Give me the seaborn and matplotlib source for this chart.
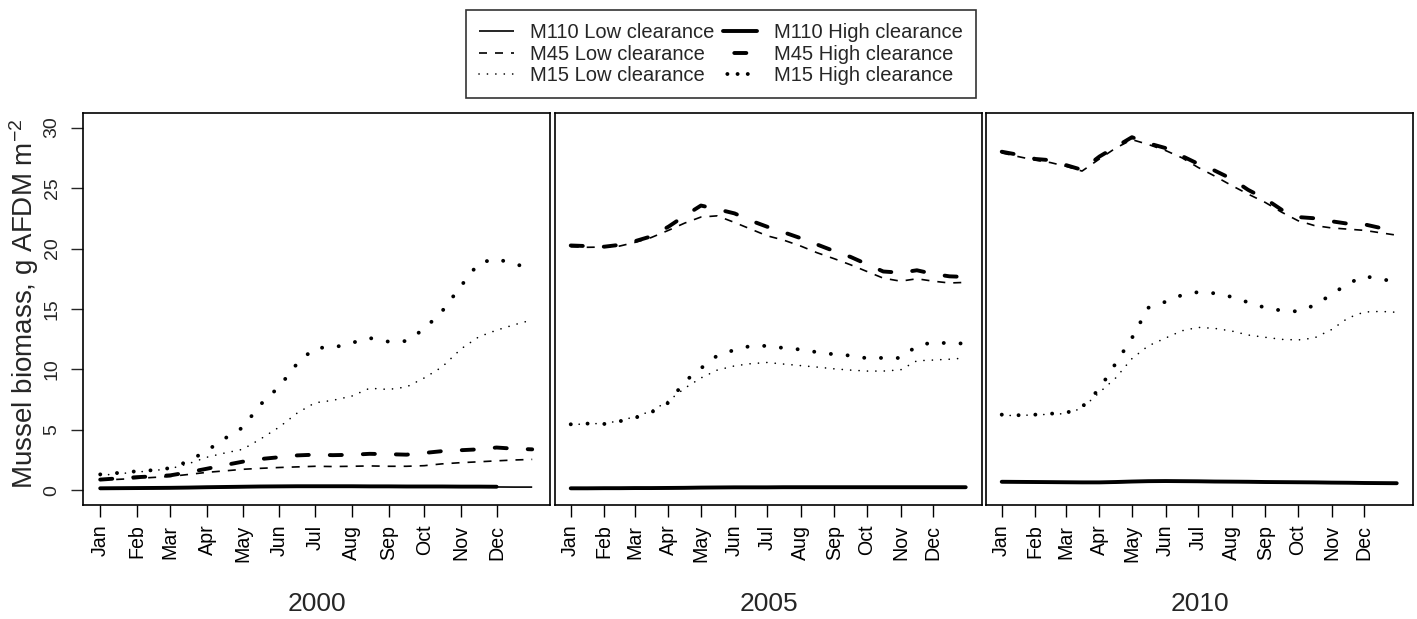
import numpy as np
import pandas as pd
import matplotlib
matplotlib.use("Agg")
import matplotlib.pyplot as plt
from matplotlib.lines import Line2D
import seaborn as sns

nan = np.nan

# sampling days (day of year) shared by every series
days = [1, 16, 32, 46, 60, 75, 91, 106, 121, 136, 152, 167, 182,
        197, 213, 228, 244, 259, 274, 289, 305, 320, 335, 350, 365]

month_starts = [1, 32, 60, 91, 121, 152, 182, 213, 244, 274, 305, 335]
month_labels = ["Jan", "Feb", "Mar", "Apr", "May", "Jun",
                "Jul", "Aug", "Sep", "Oct", "Nov", "Dec"]
years = ["2000", "2005", "2010"]
y_ticks = [0, 5, 10, 15, 20, 25, 30]

# ---- 2000 ----
m110_low_2000 = [0.15, 0.16, 0.17, 0.18, 0.19, 0.21, 0.23, 0.25, 0.27, 0.29, 0.30, 0.31, 0.31,
                 0.31, 0.31, 0.31, 0.30, 0.30, 0.30, 0.30, 0.29, 0.29, 0.29, 0.28, 0.28]
m110_high_2000 = [0.18, 0.19, 0.20, 0.21, 0.22, 0.24, 0.27, 0.29, 0.31, 0.33, 0.34, 0.35, 0.35,
                  0.35, 0.35, 0.34, 0.34, 0.33, 0.33, 0.33, 0.32, 0.32, 0.31, nan, nan]
m45_low_2000 = [0.85, 0.92, 1.00, 1.08, 1.16, 1.32, 1.50, 1.62, 1.75, 1.83, 1.90, 1.95, 2.00,
                1.98, 2.00, 2.03, 2.00, 2.00, 2.05, 2.20, 2.30, 2.37, 2.45, 2.52, 2.57]
m45_high_2000 = [0.90, 1.00, 1.10, 1.17, 1.25, 1.50, 1.80, 2.10, 2.38, 2.60, 2.75, 2.90, 2.96,
                 2.92, 2.95, 3.03, 3.00, 2.96, 3.10, 3.25, 3.33, 3.40, 3.55, 3.45, 3.40]
m15_low_2000 = [1.25, 1.38, 1.52, 1.65, 1.80, 2.20, 2.75, 3.10, 3.40, 4.25, 5.25, 6.40, 7.25,
                7.45, 7.80, 8.45, 8.35, 8.55, 9.30, 10.20, 11.70, 12.70, 13.25, 13.70, 14.10]
m15_high_2000 = [1.33, 1.45, 1.59, 1.68, 1.85, 2.40, 3.30, 4.30, 5.20, 7.10, 8.60, 10.50, 11.80,
                 11.80, 12.20, 12.60, 12.30, 12.35, 13.35, 14.80, 16.90, 18.80, 19.15, 18.70, 18.40]

# ---- 2005 ----
m110_low_2005 = [0.15, 0.15, 0.16, 0.16, 0.17, 0.17, 0.18, 0.19, 0.20, 0.21, 0.22, 0.22, 0.22,
                 0.22, 0.22, 0.22, 0.22, 0.22, 0.22, 0.22, 0.22, 0.22, 0.22, 0.22, 0.22]
m110_high_2005 = [0.18, 0.18, 0.19, 0.19, 0.20, 0.20, 0.21, 0.22, 0.24, 0.25, 0.26, 0.26, 0.26,
                  0.27, 0.27, 0.27, 0.27, 0.27, 0.27, 0.27, 0.27, 0.27, 0.27, 0.27, 0.27]
m45_low_2005 = [20.15, 20.10, 20.12, 20.20, 20.50, 20.90, 21.50, 22.10, 22.60, 22.70, 22.15, 21.60, 21.05,
                20.70, 20.20, 19.65, 19.15, 18.65, 18.10, 17.55, 17.30, 17.50, 17.30, 17.15, 17.20]
m45_high_2005 = [20.25, 20.20, 20.15, 20.30, 20.60, 21.00, 21.80, 22.70, 23.55, 23.25, 22.90, 22.30, 21.80,
                 21.35, 20.85, 20.33, 19.78, 19.30, 18.70, 18.10, 18.00, 18.20, 17.90, 17.70, 17.65]
m15_low_2005 = [5.45, 5.50, 5.55, 5.75, 6.10, 6.55, 7.40, 8.45, 9.30, 9.95, 10.30, 10.48, 10.58,
                10.45, 10.32, 10.20, 10.05, 9.95, 9.87, 9.87, 9.97, 10.72, 10.78, 10.85, 10.95]
m15_high_2005 = [5.47, 5.53, 5.50, 5.72, 6.00, 6.45, 7.25, 9.00, 10.10, 11.15, 11.62, 11.95, 11.95,
                 11.78, 11.65, 11.43, 11.25, 11.15, 10.93, 10.96, 10.95, 11.95, 12.25, 12.16, 12.15]

# ---- 2010 ----
m110_low_2010 = [0.68, 0.68, 0.67, 0.66, 0.65, 0.64, 0.64, 0.66, 0.70, 0.72, 0.73, 0.72, 0.71,
                 0.70, 0.69, 0.68, 0.67, 0.66, 0.64, 0.63, 0.62, 0.61, 0.60, 0.59, 0.58]
m110_high_2010 = [0.72, 0.71, 0.70, 0.69, 0.68, 0.67, 0.67, 0.70, 0.74, 0.77, 0.78, 0.77, 0.76,
                  0.74, 0.73, 0.72, 0.70, 0.69, 0.68, 0.67, 0.65, 0.64, 0.62, 0.61, 0.60]
m45_low_2010 = [27.90, 27.60, 27.30, 27.10, 26.80, 26.40, 27.40, 28.30, 29.00, 28.60, 28.10, 27.50, 26.70,
                26.00, 25.20, 24.50, 23.80, 23.00, 22.30, 21.90, 21.70, 21.60, 21.50, 21.30, 21.10]
m45_high_2010 = [28.00, 27.75, 27.40, 27.30, 26.90, 26.50, 27.60, 28.40, 29.20, 28.70, 28.30, 27.65, 27.00,
                 26.45, 25.75, 24.85, 24.10, 23.20, 22.60, 22.50, 22.25, 22.05, 22.00, 21.70, 21.30]
m15_low_2010 = [6.20, 6.20, 6.25, 6.30, 6.35, 6.80, 8.10, 9.30, 10.90, 11.95, 12.60, 13.20, 13.48,
                13.40, 13.18, 12.85, 12.66, 12.49, 12.44, 12.60, 13.30, 14.25, 14.75, 14.80, 14.73]
m15_high_2010 = [6.27, 6.22, 6.27, 6.35, 6.40, 6.90, 8.40, 10.50, 12.60, 15.10, 15.60, 16.15, 16.40,
                 16.30, 16.00, 15.55, 15.10, 14.87, 14.80, 15.30, 16.20, 17.10, 17.70, 17.50, 17.20]

series_names = ["M110 Low clearance", "M45 Low clearance", "M15 Low clearance",
                "M110 High clearance", "M45 High clearance", "M15 High clearance"]

series_data = {
    "2000": [m110_low_2000, m45_low_2000, m15_low_2000,
             m110_high_2000, m45_high_2000, m15_high_2000],
    "2005": [m110_low_2005, m45_low_2005, m15_low_2005,
             m110_high_2005, m45_high_2005, m15_high_2005],
    "2010": [m110_low_2010, m45_low_2010, m15_low_2010,
             m110_high_2010, m45_high_2010, m15_high_2010],
}

# long table: one row per (year, series, day)
rows = []
for yr in years:
    for name, vals in zip(series_names, series_data[yr]):
        for d, v in zip(days, vals):
            rows.append((yr, name, d, v))
df = pd.DataFrame(rows, columns=["year", "series", "day", "biomass"])

# line styles: thin for low clearance, thick for high clearance
thin, thick = 1.2, 2.8
styles = {
    "M110 Low clearance":  dict(lw=thin, linestyle="-", solid_capstyle="butt"),
    "M45 Low clearance":   dict(lw=thin, linestyle=(0, (4.8, 4.8)), dash_capstyle="butt"),
    "M15 Low clearance":   dict(lw=thin, linestyle=(0, (0.05, 5.0)), dash_capstyle="round"),
    "M110 High clearance": dict(lw=thick, linestyle="-", solid_capstyle="round"),
    "M45 High clearance":  dict(lw=thick, linestyle=(0, (3.1, 5.4)), dash_capstyle="round"),
    "M15 High clearance":  dict(lw=thick, linestyle=(0, (0.02, 4.3)), dash_capstyle="round"),
}
# legend keys: same styles, the thick dash shifted so one dash sits in the middle
legend_styles = dict(styles)
legend_styles["M45 High clearance"] = dict(lw=thick, linestyle=(5.6, (3.1, 5.4)),
                                           dash_capstyle="round")
legend_styles["M15 High clearance"] = dict(lw=thick, linestyle=(1.5, (0.02, 2.6)),
                                           dash_capstyle="round")

sns.set_style("white")
plt.rcParams["font.family"] = ["Liberation Sans", "DejaVu Sans"]
plt.rcParams["mathtext.fontset"] = "custom"
plt.rcParams["mathtext.rm"] = "Liberation Sans"
plt.rcParams["mathtext.it"] = "Liberation Sans:italic"
plt.rcParams["mathtext.bf"] = "Liberation Sans:bold"

W, H = 1417, 619
fig = plt.figure(figsize=(W / 100, H / 100), dpi=100)

# panel boxes in pixels: (left, width)
panel_px = [(83, 467), (555, 427), (986, 427)]
top_px, bottom_px = 113, 505

axes = []
for i, (yr, (lpx, wpx)) in enumerate(zip(years, panel_px)):
    ax = fig.add_axes([lpx / W, 1 - bottom_px / H, wpx / W, (bottom_px - top_px) / H])
    axes.append(ax)
    sub_year = df[df["year"] == yr]
    for name in series_names:
        sub = sub_year[sub_year["series"] == name].dropna()
        sns.lineplot(data=sub, x="day", y="biomass", ax=ax, color="black",
                     label=name, errorbar=None, **styles[name])
    if ax.get_legend() is not None:
        ax.get_legend().remove()

    ax.set_xlim(-13.5, 380)
    ax.set_ylim(-1.2, 31.2)
    ax.set_xlabel("")
    ax.set_ylabel("")
    ax.set_xticks(month_starts)
    ax.set_xticklabels(month_labels, rotation=90, fontsize=14.1)
    ax.tick_params(axis="x", direction="out", length=8.6, width=1.0, pad=5.5,
                   bottom=True, colors="black")
    if i == 0:
        ax.set_yticks(y_ticks)
        ax.set_yticklabels([str(t) for t in y_ticks], fontsize=14.0)
        ax.tick_params(axis="y", direction="out", length=8.6, width=1.0, pad=7.5,
                       left=True, labelrotation=90)
        for lab in ax.get_yticklabels():
            lab.set_va("center")
    else:
        ax.set_yticks([])
    for sp in ax.spines.values():
        sp.set_visible(True)
        sp.set_color("black")
        sp.set_linewidth(1.2)

    cx = (lpx + wpx / 2) / W
    fig.text(cx, 1 - 604 / H, yr, ha="center", va="center", fontsize=19)

fig.text(24 / W, 1 - 304 / H, r"Mussel biomass, g AFDM m$^{-2}$",
         rotation=90, ha="center", va="center", fontsize=20)

handles = [Line2D([0, 1], [0, 0], color="black", **legend_styles[n]) for n in series_names]
leg = fig.legend(handles, series_names, loc="upper center",
                 bbox_to_anchor=(721 / W, 1 - 10 / H), ncol=2, frameon=True,
                 fancybox=False, edgecolor="black", fontsize=14.5,
                 handlelength=1.7, handletextpad=0.82, columnspacing=0.42,
                 labelspacing=0.125, borderpad=0.65, borderaxespad=0)
leg.get_frame().set_linewidth(1.2)

fig.savefig("out.png", dpi=100)
